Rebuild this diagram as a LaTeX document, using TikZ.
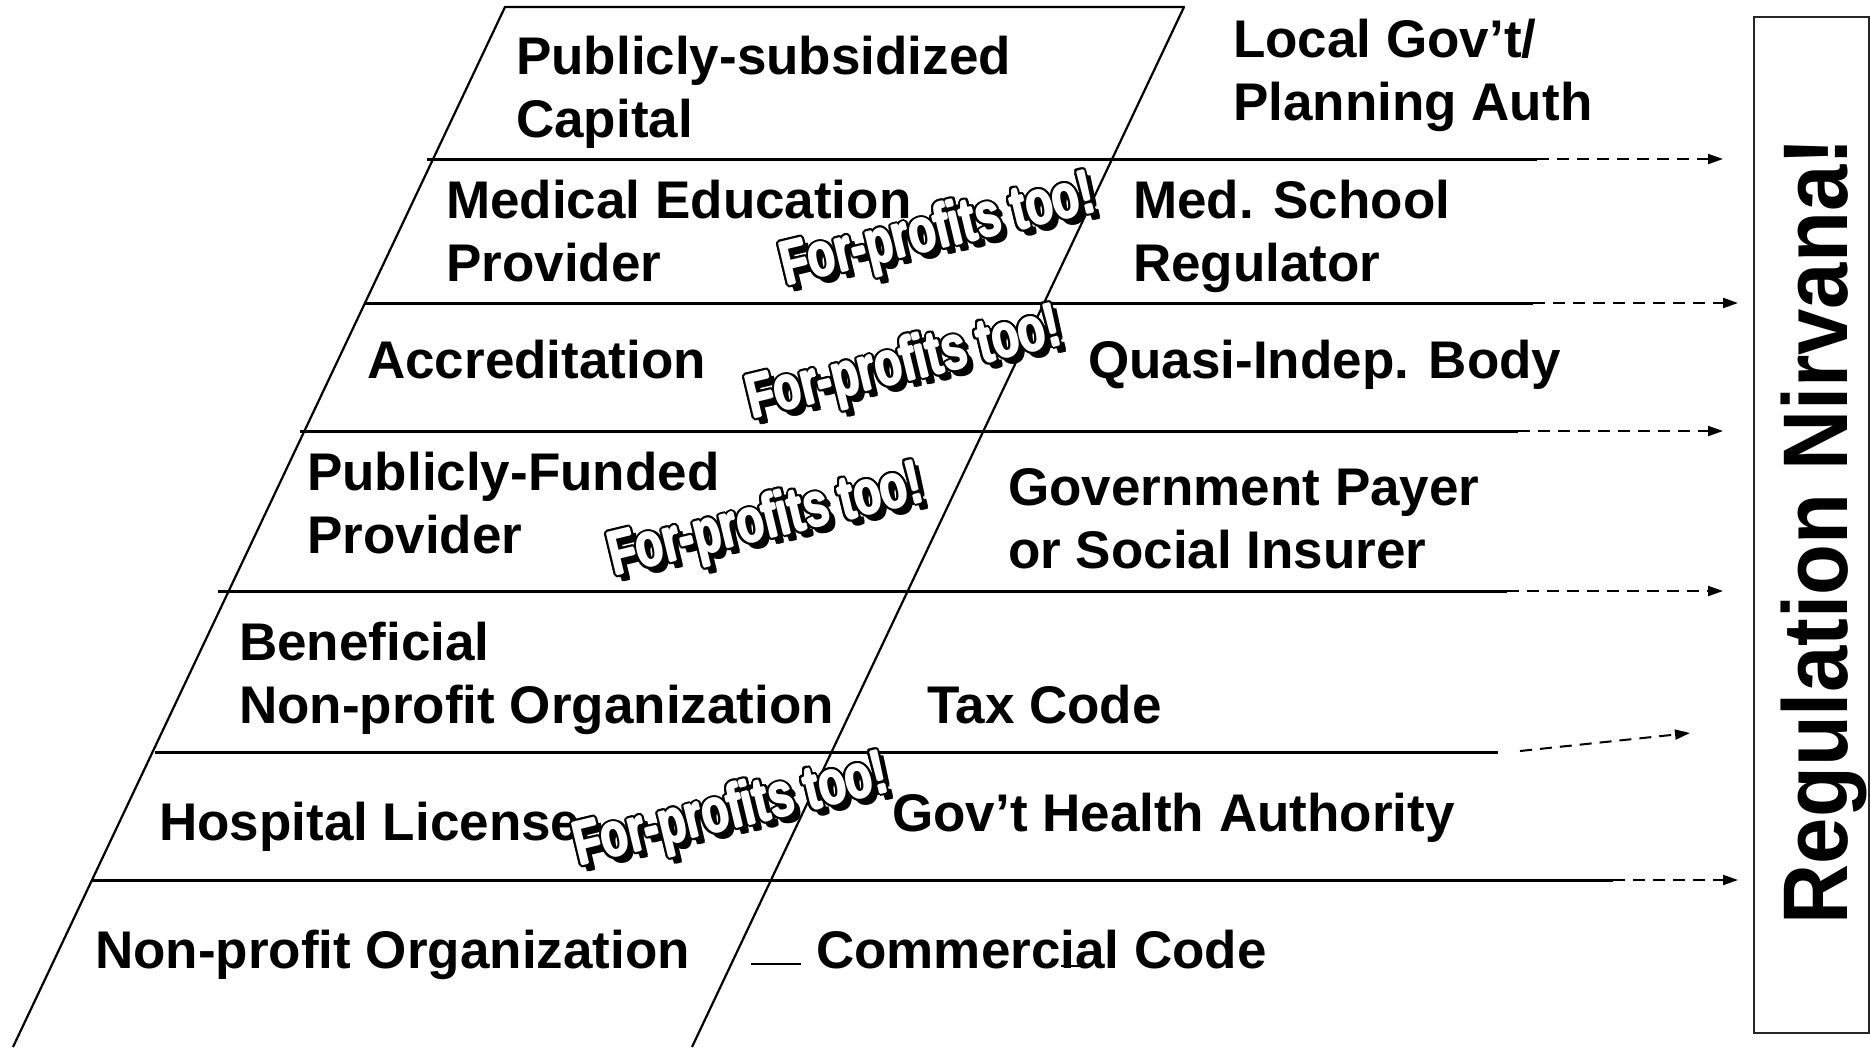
\documentclass[tikz,border=0pt]{standalone}
\usepackage{fontspec}
\setmainfont{Liberation Sans}
\usepackage{graphicx}
\usetikzlibrary{arrows.meta}
\tikzset{
  lbl/.style={anchor=base west, inner sep=0pt, align=left, font=\fontsize{53}{63}\selectfont\bfseries},
  hline/.style={line width=3pt},
  edgeline/.style={line width=2.2pt, line join=round},
  dline/.style={line width=2pt, dash pattern=on 12pt off 8pt, -{Triangle[length=15pt,width=10pt]}},
  fp/.style={anchor=base, inner sep=0pt, rotate=13.5, font=\fontsize{59}{59}\selectfont\bfseries},
}
\newcommand\fptext{\scalebox{0.75}[1.05]{For-profits too!}}
\newcommand\forprofits[3]{%
  \foreach \dx/\dy [count=\k] in {3/0,-3/0,0/3,0/-3,2.1/2.1,-2.1/2.1,2.1/-2.1,-2.1/-2.1,2.8/1.2,-2.8/1.2,2.8/-1.2,-2.8/-1.2,1.2/2.8,-1.2/2.8,1.2/-2.8,-1.2/-2.8,4/4,5/5,6/6,7/5,5/7,7/7}{
    \node[fp, text=black] (#1-o\k) at ({#2+(\dx)},{#3+(\dy)}) {\fptext};
  }
  \foreach \dx/\dy [count=\k] in {1/0,-1/0,0/1,0/-1}{
    \node[fp, text=white] (#1-w\k) at ({#2+(\dx)},{#3+(\dy)}) {\fptext};
  }
  \node[fp, text=white] (#1) at (#2,#3) {\fptext};
}
\begin{document}
\begin{tikzpicture}[x=1pt, y=-1pt]
\useasboundingbox[fill=white] (0,0) rectangle (1870,1047);

% parallelogram
\coordinate (tl) at (505,7);
\coordinate (tr) at (1184,7);
\coordinate (bl) at (13,1047);
\coordinate (br) at (692,1047);
\draw[edgeline] (bl) -- (tl) -- (tr) -- (br);

% horizontal lines with dashed arrows
\coordinate (a1) at (427,159);  \coordinate (b1) at (1537,159); \coordinate (c1) at (1723,159);
\coordinate (a2) at (364,303);  \coordinate (b2) at (1533,303); \coordinate (c2) at (1738,303);
\coordinate (a3) at (300,431);  \coordinate (b3) at (1518,431); \coordinate (c3) at (1723,431);
\coordinate (a4) at (218,591);  \coordinate (b4) at (1507,591); \coordinate (c4) at (1723,591);
\coordinate (a5) at (155,752);  \coordinate (b5) at (1498,752); \coordinate (d5) at (1520,751); \coordinate (c5) at (1690,733);
\coordinate (a6) at (92,880);   \coordinate (b6) at (1613,880); \coordinate (c6) at (1738,880);
\foreach \i in {1,2,3,4,6}{
  \draw[hline] (a\i) -- (b\i);
  \draw[dline] (b\i) -- (c\i);
}
\draw[hline] (a5) -- (b5);
\draw[dline] (d5) -- (c5);

% left labels (anchor = baseline of last line)
\node[lbl] (p1) at (516,137) {Publicly-subsidized\\Capital};
\node[lbl] (p2) at (446,281) {Medical Education\\Provider};
\node[lbl] (p3) at (367,378) {Accreditation};
\node[lbl] (p4) at (307,553) {Publicly-Funded\\Provider};
\node[lbl] (p5) at (239,723) {Beneficial\\Non-profit Organization};
\node[lbl] (p6) at (159,840) {Hospital License};
\node[lbl] (p7) at (95,968)  {Non-profit Organization};

% right labels
\node[lbl] (r1) at (1233,120) {Local Gov’t/\\Planning Auth};
\node[lbl] (r2) at (1133,281) {Med. School\\Regulator};
\node[lbl] (r3) at (1088,378) {Quasi-Indep. Body};
\node[lbl] (r4) at (1008,568) {Government Payer\\or Social Insurer};
\node[lbl] (r5) at (927,723)  {Tax Code};
\node[lbl] (r6) at (892,831)  {Gov’t Health Authority};
\node[lbl] (r7) at (816,968)  {Commercial Code};

% small strokes near Commercial Code
\coordinate (cc1) at (751,964); \coordinate (cc2) at (801,964);
\draw[line width=2.5pt] (cc1) -- (cc2);
\coordinate (cc3) at (1061,966); \coordinate (cc4) at (1086,966);
\draw[line width=1.5pt] (cc3) -- (cc4);

% For-profits too! labels
\forprofits{fpA}{942}{248}
\forprofits{fpB}{908}{381}
\forprofits{fpC}{770}{538}
\forprofits{fpD}{735}{828}

% Regulation Nirvana box
\node[draw=black!85, line width=1.3pt, minimum width=115pt, minimum height=1016pt, inner sep=0pt] (nbox) at (1811.5,525) {};
\node[rotate=90, anchor=base, inner sep=0pt, font=\fontsize{82}{82}\selectfont\bfseries] (nirvana) at (1847,531) {\scalebox{1.015}[1.12]{Regulation Nirvana!}};
\end{tikzpicture}
\end{document}
